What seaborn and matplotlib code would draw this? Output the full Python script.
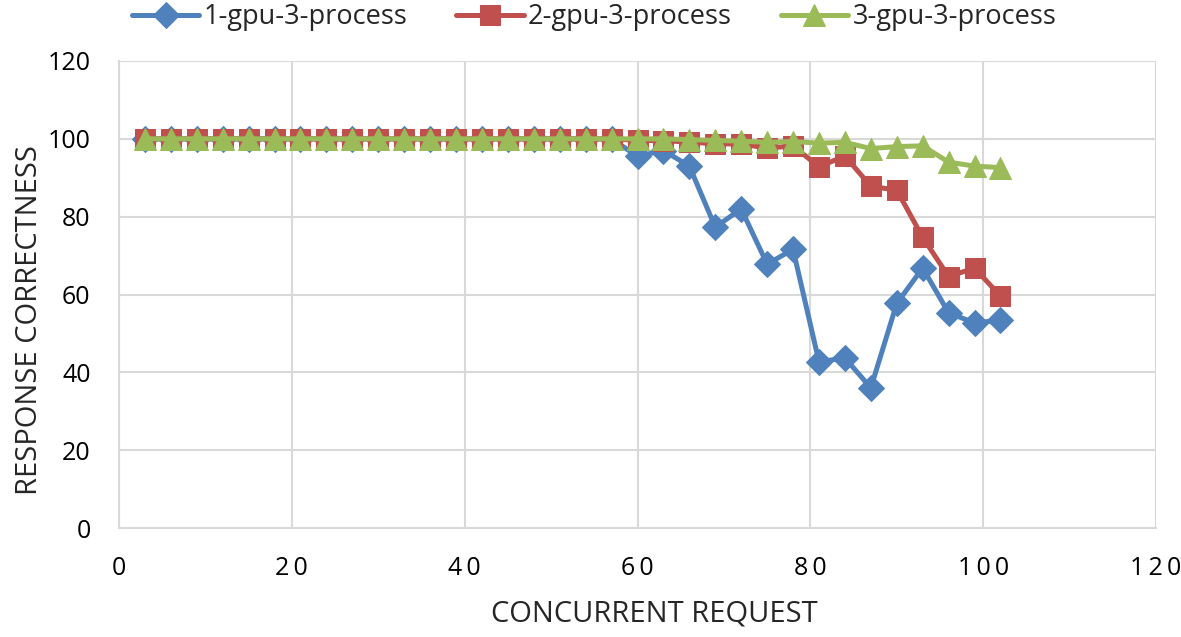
import pandas as pd
import matplotlib
matplotlib.use("Agg")
import matplotlib.pyplot as plt
import seaborn as sns

# concurrent request counts
requests = list(range(3, 103, 3))

# response correctness (%) per configuration
gpu1 = [100] * 19 + [95.5, 97, 93, 77.3, 82, 67.8, 71.6, 42.7, 43.7, 36,
                     57.7, 66.8, 55.3, 52.7, 53.4]
gpu2 = [100] * 19 + [99.6, 99.5, 99.2, 98.7, 98.7, 97.6, 98.2, 92.8, 95.6, 87.8,
                     86.8, 74.7, 64.6, 66.8, 59.6]
gpu3 = [100] * 19 + [100, 100, 99.8, 99.6, 99.4, 99.1, 99.3, 98.9, 99.1, 97.5,
                     98, 98.2, 94, 93, 92.6]

series_names = ["1-gpu-3-process", "2-gpu-3-process", "3-gpu-3-process"]
colors = ["#4F81BD", "#C0504D", "#9BBB59"]
markers = ["D", "s", "^"]
marker_sizes = [13, 15, 16]

df = pd.DataFrame({"request": requests, series_names[0]: gpu1,
                   series_names[1]: gpu2, series_names[2]: gpu3})
long_df = df.melt(id_vars="request", var_name="series", value_name="correctness")

sns.set_style("white")
plt.rcParams["font.family"] = ["Open Sans", "DejaVu Sans"]

fig = plt.figure(figsize=(11.81, 6.37), dpi=100)
ax = fig.add_axes([119 / 1181, 1 - 528 / 637, (1156 - 119) / 1181, (528 - 61) / 637])

for name, c, m, ms in zip(series_names, colors, markers, marker_sizes):
    sub = long_df[long_df["series"] == name]
    sns.lineplot(data=sub, x="request", y="correctness", ax=ax, color=c,
                 marker=m, markersize=ms, markeredgecolor=c, linewidth=3.6,
                 label=name, legend=False)

ax.set_xlim(0, 120)
ax.set_ylim(0, 120)
ax.set_xticks(range(0, 121, 20))
ax.set_yticks(range(0, 121, 20))
# excel-style letter spaced x tick labels
ax.set_xticklabels(["\u2009".join(str(v)) for v in range(0, 121, 20)], fontsize=18)
ax.set_yticklabels([str(v) for v in range(0, 121, 20)], fontsize=18)
ax.set_xlabel("CONCURRENT REQUEST", fontsize=21, va="center")
ax.set_ylabel("RESPONSE CORRECTNESS", fontsize=21, va="center")
ax.xaxis.set_label_coords((654 - 119) / 1037, -(614 - 528) / 467)
ax.yaxis.set_label_coords((30 - 119) / 1037, (528 - 320) / 467)

ax.grid(True, color="#D9D9D9", linewidth=1.5)
ax.set_axisbelow(True)
for side in ["top", "right"]:
    ax.spines[side].set_visible(False)
for side in ["left", "bottom"]:
    ax.spines[side].set_color("#D9D9D9")
    ax.spines[side].set_linewidth(1.5)
ax.tick_params(axis="both", length=6.5, width=1.5, color="#D9D9D9",
               labelcolor="#000000")
ax.tick_params(axis="y", pad=14)
ax.tick_params(axis="x", pad=14)

handles = ax.get_lines()[:3]
fig.legend(handles, series_names, loc="center",
           bbox_to_anchor=(594 / 1181, 1 - 17 / 637), ncol=3, frameon=False,
           fontsize=19.5, handlelength=2.5, columnspacing=1.8,
           handletextpad=0.15, borderaxespad=0)

fig.savefig("out.png", dpi=100)
